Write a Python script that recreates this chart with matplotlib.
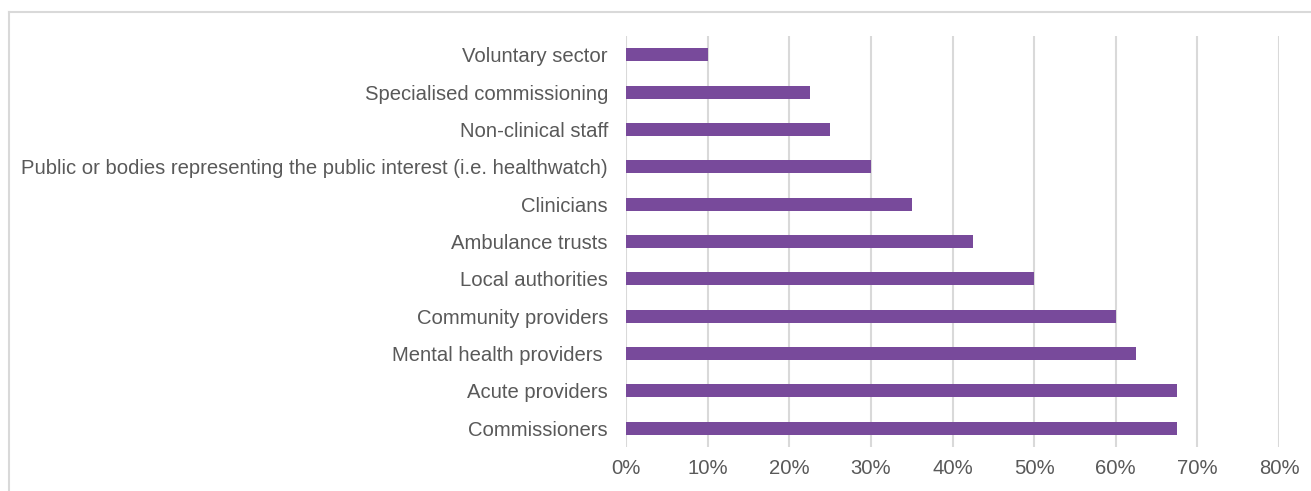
import matplotlib
matplotlib.use('Agg')
import matplotlib.pyplot as plt
from matplotlib.lines import Line2D
from matplotlib.ticker import FuncFormatter

plt.rcParams.update({'font.size': 14.6, 'font.family': 'Liberation Sans'})

# stakeholder groups, top to bottom
groups = [
    'Voluntary sector',
    'Specialised commissioning',
    'Non-clinical staff',
    'Public or bodies representing the public interest (i.e. healthwatch)',
    'Clinicians',
    'Ambulance trusts',
    'Local authorities',
    'Community providers',
    'Mental health providers ',
    'Acute providers',
    'Commissioners',
]
share = [10, 22.5, 25, 30, 35, 42.5, 50, 60, 62.5, 67.5, 67.5]
xticks = [0, 10, 20, 30, 40, 50, 60, 70, 80]

bar_color = '#784a9b'
text_color = '#595959'
grid_color = '#d9d9d9'

fig = plt.figure(figsize=(13.11, 4.91), dpi=100)
ax = fig.add_axes([626 / 1311, 1 - 447 / 491, (1279 - 626) / 1311, (447 - 36) / 491])

pos = list(range(len(groups)))
ax.barh(pos, share, height=0.35, color=bar_color, zorder=3)
ax.set_ylim(len(groups) - 0.5, -0.5)
ax.set_yticks(pos)
ax.set_yticklabels(groups)
ax.set_xlim(0, 80)
ax.set_xticks(xticks)
ax.xaxis.set_major_formatter(FuncFormatter(lambda v, p: '%d%%' % v))

ax.grid(axis='x', color=grid_color, linewidth=1.5, zorder=0)
for s in ax.spines.values():
    s.set_visible(False)
ax.tick_params(length=0, colors=text_color, labelsize=14.6)
ax.tick_params(axis='y', pad=13)
ax.tick_params(axis='x', pad=9)

# outer frame, cut off at the right and bottom
fig.add_artist(Line2D([9 / 1311, 9 / 1311], [0, 1 - 12 / 491],
                      transform=fig.transFigure, color=grid_color, linewidth=1.5))
fig.add_artist(Line2D([9 / 1311, 1], [1 - 12 / 491, 1 - 12 / 491],
                      transform=fig.transFigure, color=grid_color, linewidth=1.5))

plt.savefig('out.png', dpi=100)
